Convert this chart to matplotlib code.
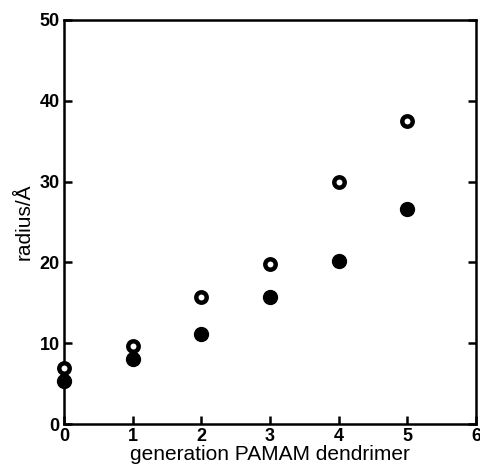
import matplotlib
matplotlib.use('Agg')
import matplotlib.pyplot as plt

plt.rcParams['font.family'] = ['Liberation Sans', 'DejaVu Sans']

generation = [0, 1, 2, 3, 4, 5]
radius_open = [7.0, 9.7, 15.7, 19.8, 30.0, 37.5]
radius_filled = [5.4, 8.0, 11.2, 15.7, 20.2, 26.6]

fig = plt.figure(figsize=(4.8, 4.75), dpi=100)
ax = fig.add_axes([0.133, 0.107, 0.859, 0.851])

ax.plot(generation, radius_filled, 'o', color='black', markersize=10,
        clip_on=False, zorder=3)
ax.plot(generation, radius_open, 'o', markerfacecolor='white',
        markeredgecolor='black', markersize=7.5, markeredgewidth=3.2,
        clip_on=False, zorder=4)

ax.set_xlim(0, 6)
ax.set_ylim(0, 50)
ax.set_xticks(range(0, 7))
ax.set_yticks(range(0, 51, 10))

for s in ax.spines.values():
    s.set_linewidth(1.8)
ax.tick_params(direction='in', length=6, width=1.8, labelsize=13,
               right=True, top=False, pad=3)
for lbl in ax.get_xticklabels() + ax.get_yticklabels():
    lbl.set_fontweight('bold')

ax.set_xlabel('generation PAMAM dendrimer', fontsize=15, labelpad=0)
ax.set_ylabel('radius/Å', fontsize=15, labelpad=4)

fig.savefig('out.png', dpi=100)
